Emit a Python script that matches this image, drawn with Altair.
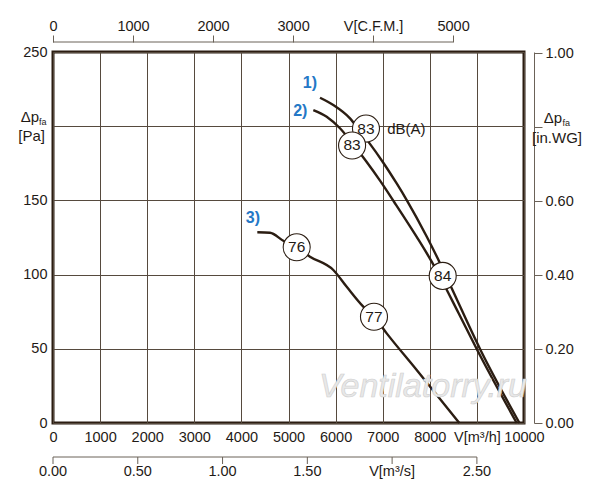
import altair as alt
import pandas as pd

# ---- data (V in m3/h, dp in Pa) ----
c1_q = [5669, 5951, 6306, 6518, 6694, 7013, 7297, 7516, 7934, 8217, 8465, 9066, 9904]
c1_p = [219.2, 214.3, 205.3, 196.8, 189.6, 175.4, 161.4, 149.9, 125.7, 107.7, 90.8, 49.9, 0]
c2_q = [5527, 5811, 6093, 6369, 6645, 6943, 7240, 7722, 8040, 8195, 8599, 8996, 9845]
c2_p = [210.9, 206.4, 198.6, 188.0, 176.5, 163.3, 149.1, 125.4, 108.7, 99.7, 74.8, 49.9, 0]
c3_q = [4338, 4607, 4890, 5174, 5456, 5951, 6236, 6588, 6815, 7085, 7722, 8626]
c3_p = [128.5, 128.2, 122.8, 118.4, 112.1, 103.1, 91.8, 78.4, 71.6, 60.4, 35.7, 0]

noise_labels = ["83", "83", "84", "76", "77"]
noise_q = [6645, 6350, 8274, 5174, 6815]
noise_p = [198.4, 187.0, 99.1, 118.4, 71.6]

unit_text = ["dB(A)"]
unit_q = [7095]
unit_p = [198.4]

curve_names = ["1)", "2)", "3)"]
curve_label_q = [5456, 5251, 4243]
curve_label_p = [229.1, 210.4, 137.9]

x_ticks = [0, 1000, 2000, 3000, 4000, 5000, 6000, 7000, 8000, 9000, 10000]
x_labels = ["0", "1000", "2000", "3000", "4000", "5000", "6000", "7000", "8000", "V[m³/h]", "10000"]
y_ticks = [0, 50, 100, 150, 200, 250]
y_labels = ["0", "50", "100", "150", "", "250"]
cfm_ticks = [0, 1000, 2000, 3000, 4000, 5000]
cfm_labels = ["0", "1000", "2000", "3000", "V[C.F.M.]", "5000"]
ms_ticks = [0, 0.5, 1.0, 1.5, 2.0, 2.5]
ms_labels = ["0.00", "0.50", "1.00", "1.50", "V[m³/s]", "2.50"]
wg_ticks = [0, 0.2, 0.4, 0.6, 0.8, 1.0]
wg_labels = ["0.00", "0.20", "0.40", "0.60", "", "1.00"]

CFM_TO_M3H = 1.699
INWG_TO_PA = 249.089
M3S_TO_M3H = 3600

GRID = "#564a3e"
AXC = "#6b6258"
INK = "#2b1d12"
TXT = "#1f1a16"
BLUE = "#2478c6"
FONT = "Liberation Sans"
FS = 14.5


def label_expr(vals, labels):
    v = ",".join(repr(float(x)) if isinstance(x, float) else str(x) for x in vals)
    l = ",".join("'" + s + "'" for s in labels)
    return f"[{l}][indexof([{v}], datum.value)]"


xscale = alt.Scale(domain=[0, 10000], nice=False, zero=True)
yscale = alt.Scale(domain=[0, 250], nice=False, zero=True)

xaxis = alt.Axis(values=x_ticks, labelExpr=label_expr(x_ticks, x_labels), grid=True,
                 gridColor=GRID, gridWidth=1, ticks=False, tickSize=0, domain=False,
                 labelPadding=7, title=None, labelFlush=False, labelOverlap=False,
                 labelAngle=0, labelBound=False, orient="bottom")
yaxis = alt.Axis(values=y_ticks, labelExpr=label_expr(y_ticks, y_labels), grid=True,
                 gridColor=GRID, gridWidth=1, ticks=False, tickSize=0, domain=False,
                 labelPadding=6, title=None, labelOverlap=False, orient="left")


def X(field):
    return alt.X(field, scale=xscale, axis=xaxis)


def Y(field):
    return alt.Y(field, scale=yscale, axis=yaxis)


curves = pd.DataFrame({
    "q": c1_q + c2_q + c3_q,
    "p": c1_p + c2_p + c3_p,
    "curve": ["1"] * len(c1_q) + ["2"] * len(c2_q) + ["3"] * len(c3_q),
})
noise = pd.DataFrame({"q": noise_q, "p": noise_p, "label": noise_labels})
units = pd.DataFrame({"q": unit_q, "p": unit_p, "label": unit_text})
cnames = pd.DataFrame({"q": curve_label_q, "p": curve_label_p, "label": curve_names})

lines = alt.Chart(curves).mark_line(color=INK, strokeWidth=2.4, interpolate="monotone").encode(
    x=X("q:Q"), y=Y("p:Q"), detail="curve:N")

watermark = alt.Chart(pd.DataFrame({"t": ["Ventilatorry.ru"]})).mark_text(
    font=FONT, fontSize=34, fontStyle="italic", fill="#e8e8e8", stroke="#cfcfcf",
    strokeWidth=0.6, align="center", baseline="middle"
).encode(x=alt.value(370), y=alt.value(335), text="t:N")

circles = alt.Chart(noise).mark_circle(size=730, color="white", opacity=1, stroke=INK,
                                       strokeWidth=1.1).encode(x=X("q:Q"), y=Y("p:Q"))
circle_txt = alt.Chart(noise).mark_text(fontSize=15.5, color=TXT, font=FONT, baseline="middle").encode(
    x=X("q:Q"), y=Y("p:Q"), text="label:N")
unit_txt = alt.Chart(units).mark_text(fontSize=15, color=TXT, font=FONT, align="left",
                                      baseline="middle").encode(x=X("q:Q"), y=Y("p:Q"), text="label:N")
name_txt = alt.Chart(cnames).mark_text(fontSize=16, fontWeight="bold", color=BLUE, font=FONT,
                                       baseline="middle").encode(x=X("q:Q"), y=Y("p:Q"), text="label:N")

# m3/s axis below the chart
ms_df = pd.DataFrame({"v": ms_ticks, "label": ms_labels})
ms_span = pd.DataFrame({"v0": [ms_ticks[0]], "v1": [ms_ticks[-1]]})
ms_line = alt.Chart(ms_span).transform_calculate(
    q=f"datum.v0 * {M3S_TO_M3H}", q1=f"datum.v1 * {M3S_TO_M3H}"
).mark_rule(color=AXC, strokeWidth=1).encode(x=X("q:Q"), x2="q1:Q", y=alt.value(405))
ms_tick = alt.Chart(ms_df).transform_calculate(q=f"datum.v * {M3S_TO_M3H}").mark_rule(
    color=AXC, strokeWidth=1).encode(x=X("q:Q"), y=alt.value(405), y2=alt.value(412))
ms_text = alt.Chart(ms_df).transform_calculate(q=f"datum.v * {M3S_TO_M3H}").mark_text(
    fontSize=FS, color=TXT, font=FONT, baseline="middle").encode(
    x=X("q:Q"), y=alt.value(420), text="label:N")


# axis unit titles (Delta p_fa)
def txt(s, x, y, align, size=15):
    return alt.Chart(pd.DataFrame({"t": [s]})).mark_text(
        font=FONT, fontSize=size, color=TXT, align=align, baseline="middle"
    ).encode(x=alt.value(x), y=alt.value(y), text="t:N")


left_titles = [txt("Δp", -14, 65, "right"), txt("fa", -14, 70, "left", 9), txt("[Pa]", -8, 84, "right")]
right_titles = [txt("Δp", 509, 66, "right"), txt("fa", 509.5, 70.5, "left", 9),
                txt("[in.WG]", 504, 86, "center")]

main = alt.layer(lines, watermark, ms_line, ms_tick, ms_text, circles, circle_txt, unit_txt, name_txt,
                 *left_titles, *right_titles)

# secondary scales: C.F.M. (top) and in.WG (right)
cfm_span = pd.DataFrame({"c0": [cfm_ticks[0]], "c1": [cfm_ticks[-1]]})
cfm_axis = alt.Axis(orient="top", values=cfm_ticks, labelExpr=label_expr(cfm_ticks, cfm_labels),
                    offset=10, domain=False, ticks=True, tickSize=7, tickColor=AXC, grid=False,
                    labelPadding=2, title=None, labelFlush=False, labelOverlap=False, labelAngle=0)
top_rule = alt.Chart(cfm_span).mark_rule(color=AXC, strokeWidth=1).encode(
    x=alt.X("c0:Q", scale=alt.Scale(domain=[0, 10000 / CFM_TO_M3H], nice=False, zero=True), axis=cfm_axis),
    x2="c1:Q", y=alt.value(-10))
wg_axis = alt.Axis(orient="right", values=wg_ticks, labelExpr=label_expr(wg_ticks, wg_labels),
                   offset=10, domain=True, domainColor=AXC, ticks=True, tickSize=8, tickColor=AXC,
                   grid=False, labelPadding=3, title=None, labelOverlap=False)
wg_pts = alt.Chart(pd.DataFrame({"w": wg_ticks})).mark_point(opacity=0).encode(
    y=alt.Y("w:Q", scale=alt.Scale(domain=[0, 250 / INWG_TO_PA], nice=False, zero=True), axis=wg_axis),
    x=alt.value(0))
helper = alt.layer(top_rule, wg_pts)

chart = alt.layer(main, helper).resolve_scale(x="independent", y="independent").properties(
    width=471, height=371,
    autosize=alt.AutoSizeParams(type="none"),
    padding={"left": 45, "top": 44, "right": 66, "bottom": 69},
    background="white",
).configure_view(stroke=INK, strokeWidth=3).configure_axis(
    labelFont=FONT, labelFontSize=FS, labelColor=TXT
)

chart.save("out.html", embed_options={"renderer": "svg", "actions": False})
